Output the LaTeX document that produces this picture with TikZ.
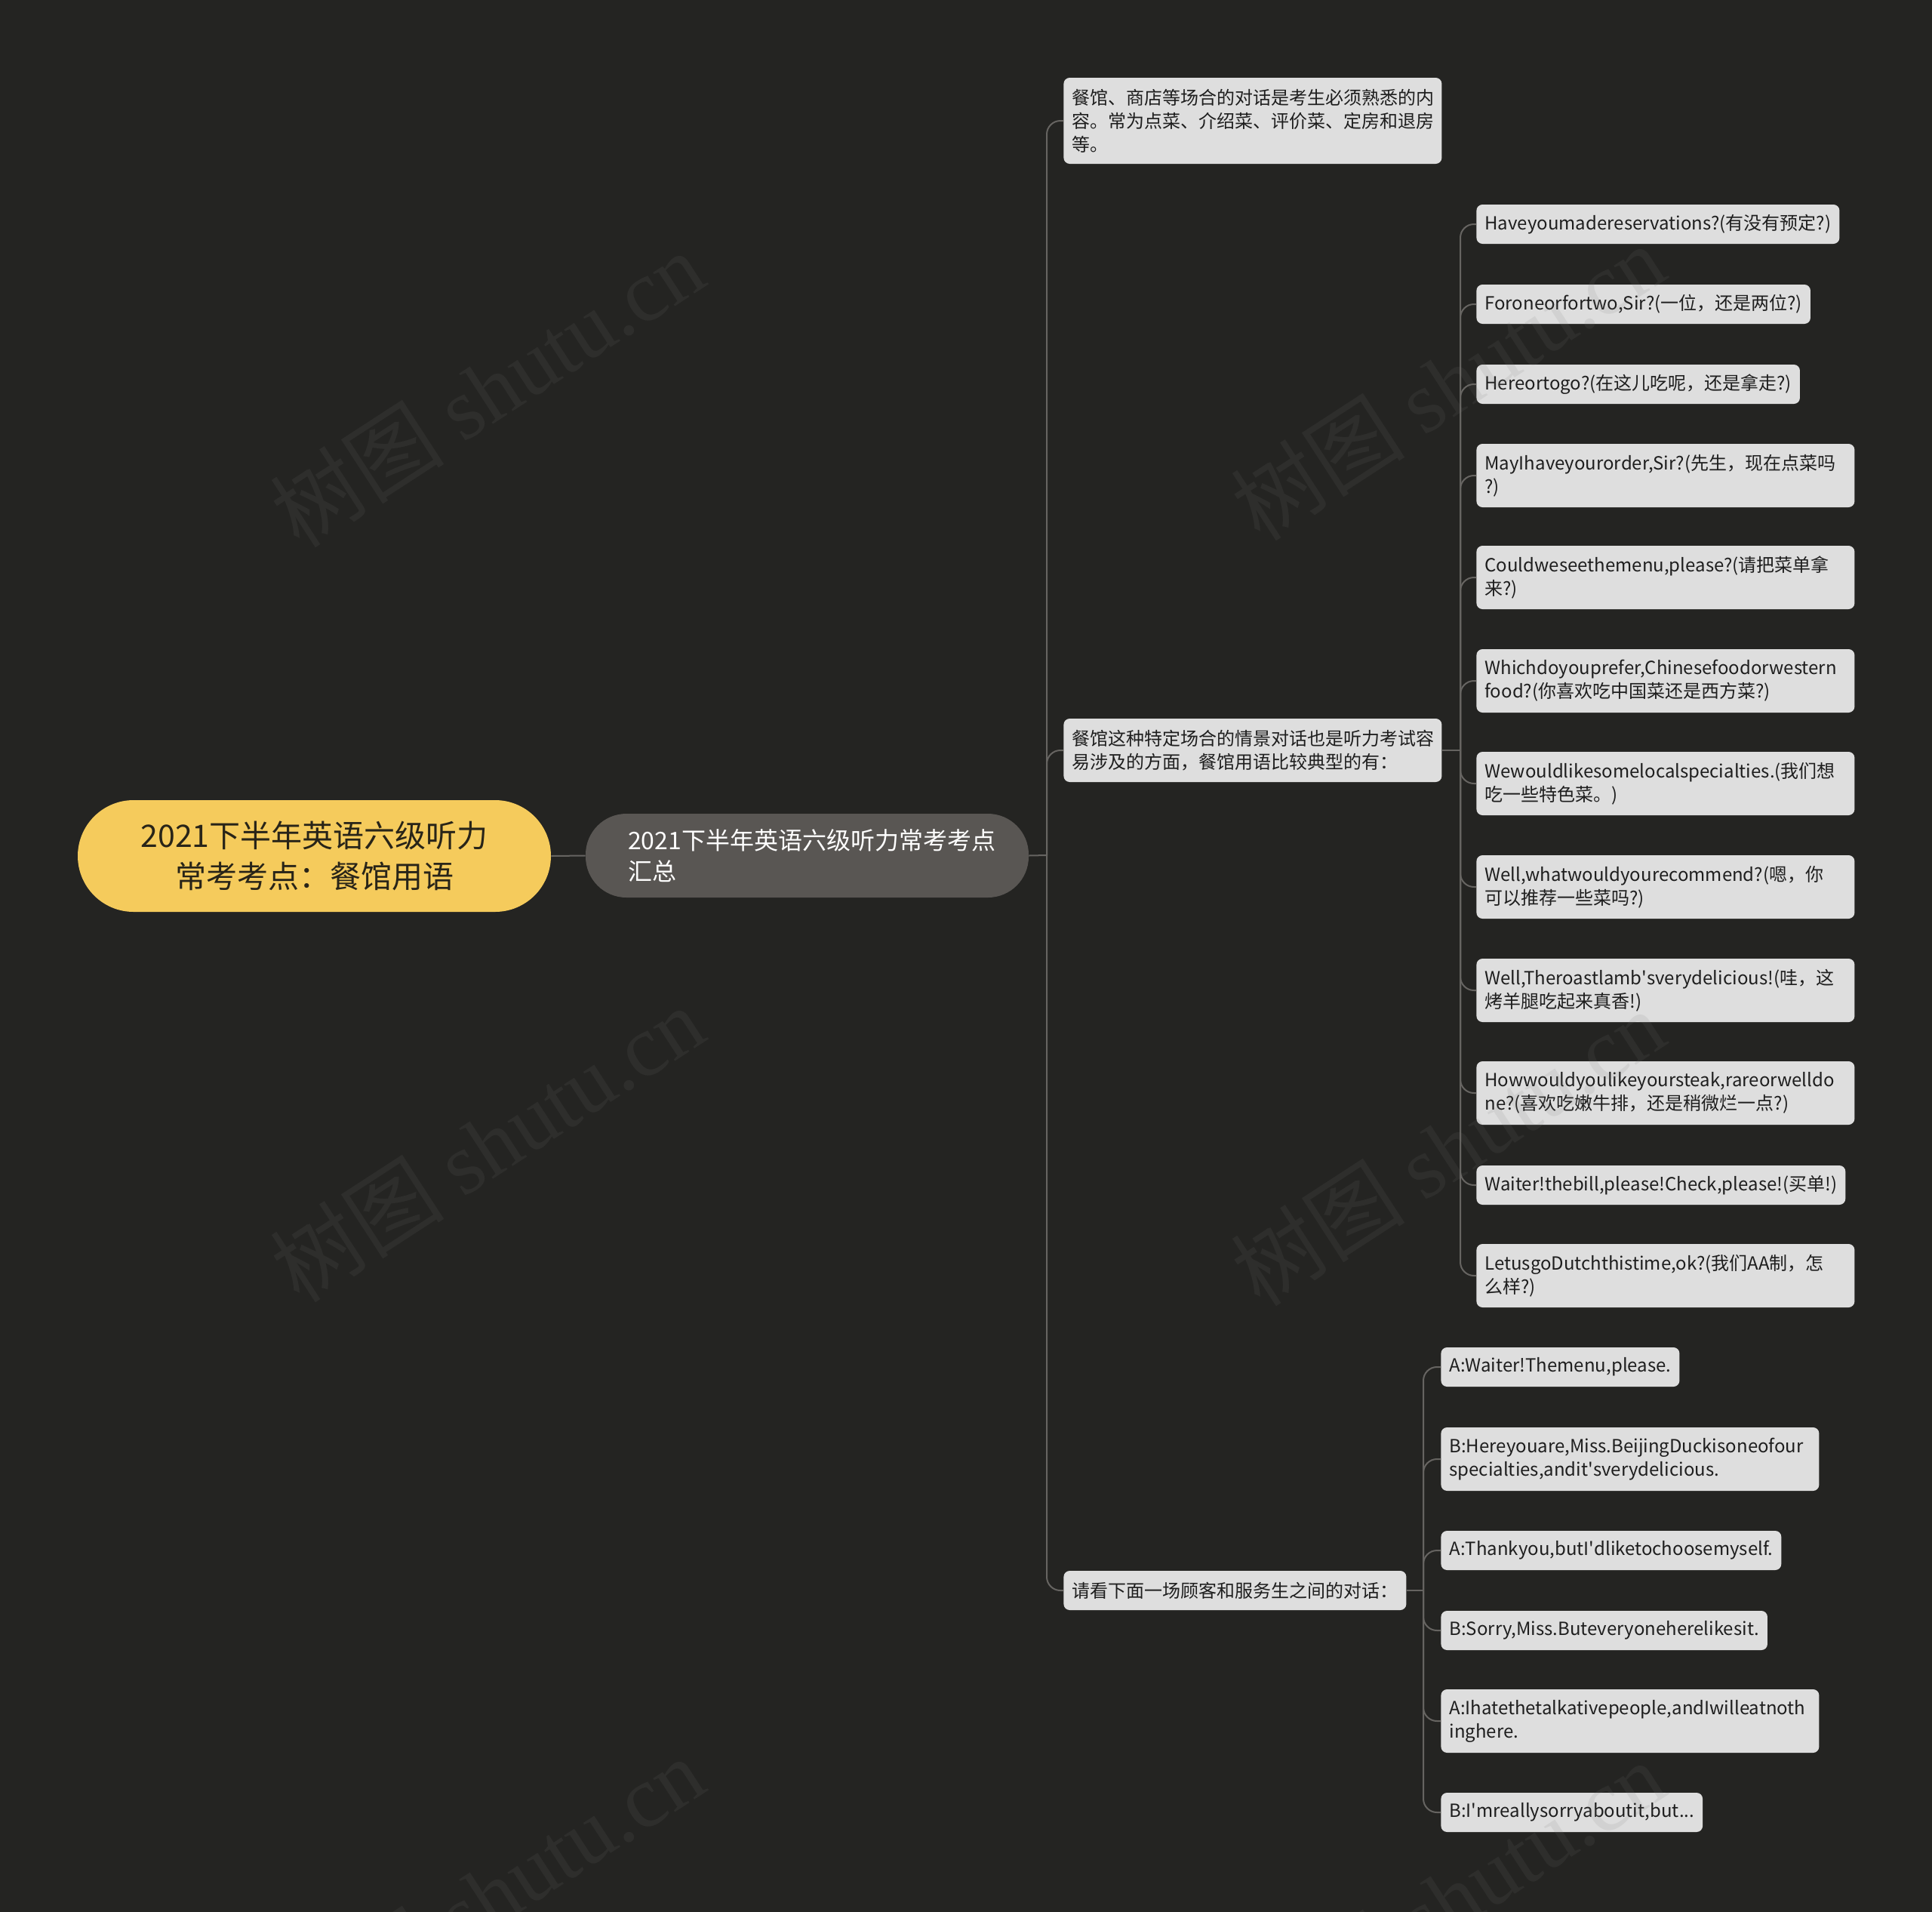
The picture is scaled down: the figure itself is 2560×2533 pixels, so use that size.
\documentclass[tikz,border=0pt]{standalone}
\usepackage{fontspec}
\setmainfont{Noto Sans CJK SC}
\newfontfamily\wmfont{Liberation Serif}
\usetikzlibrary{positioning,calc}
\definecolor{BgDark}{RGB}{36,36,34}
\definecolor{WmGray}{RGB}{120,120,118}
\definecolor{RootYellow}{RGB}{245,203,92}
\definecolor{RootInk}{RGB}{40,36,24}
\definecolor{SubGray}{RGB}{89,86,83}
\definecolor{LeafGray}{RGB}{222,222,222}
\definecolor{LeafInk}{RGB}{30,30,30}
\definecolor{LineGray}{RGB}{102,100,97}
\tikzset{
  root/.style={fill=RootYellow,text=RootInk,rounded corners=37pt,minimum width=313.5pt,
    minimum height=74pt,align=center,font=\fontsize{20.5}{27}\selectfont},
  sub/.style={fill=SubGray,text=white,rounded corners=27pt,minimum height=55.5pt,
    text width=237.5pt,inner xsep=28pt,align=left,font=\fontsize{16}{20.5}\selectfont},
  leaf/.style={fill=LeafGray,text=LeafInk,rounded corners=4pt,anchor=west,inner xsep=5.5pt,
    minimum height=26pt,font=\fontsize{12}{15.5}\selectfont},
  leafw/.style={leaf,text width=239.5pt,align=left,minimum height=42pt},
  conn/.style={draw=LineGray,line width=1pt,rounded corners=9pt},
  wm/.style={text=WmGray,text opacity=0.12,rotate=33,font=\fontsize{58}{58}\selectfont},
}
\newcommand{\apos}{\textquotesingle}

\begin{document}
\begin{tikzpicture}[x=0.5pt,y=-0.5pt]
\fill[BgDark] (0,0) rectangle (2560,2533);
\useasboundingbox (0,0) rectangle (2560,2533);
% centre
\node[root] (root) at (416.5,1134) {2021下半年英语六级听力\\常考考点：餐馆用语};
\node[sub] (sub) at (1069.5,1133.5) {2021下半年英语六级听力常考考点\\汇总};
\coordinate (f1) at (1387,1133);
% first level
\node[leafw,minimum height=57pt] (t1) at (1409,160) {餐馆、商店等场合的对话是考生必须熟悉的内\\容。常为点菜、介绍菜、评价菜、定房和退房\\等。};
\node[leafw] (t2) at (1409,994) {餐馆这种特定场合的情景对话也是听力考试容\\易涉及的方面，餐馆用语比较典型的有：};
\node[leaf] (t3) at (1409,2107) {请看下面一场顾客和服务生之间的对话：};
\coordinate (f2) at (1935,994);
\coordinate (f3) at (1886,2107);
% phrases
\node[leaf] (c1) at (1956,297) {Haveyoumadereservations?(有没有预定?)};
\node[leaf] (c2) at (1956,403) {Foroneorfortwo,Sir?(一位，还是两位?)};
\node[leaf] (c3) at (1956,509) {Hereortogo?(在这儿吃呢，还是拿走?)};
\node[leafw] (c4) at (1956,630) {MayIhaveyourorder,Sir?(先生，现在点菜吗\\?)};
\node[leafw] (c5) at (1956,765) {Couldweseethemenu,please?(请把菜单拿\\来?)};
\node[leafw] (c6) at (1956,902) {Whichdoyouprefer,Chinesefoodorwestern\\food?(你喜欢吃中国菜还是西方菜?)};
\node[leafw] (c7) at (1956,1038) {Wewouldlikesomelocalspecialties.(我们想\\吃一些特色菜。)};
\node[leafw] (c8) at (1956,1175) {Well,whatwouldyourecommend?(嗯，你\\可以推荐一些菜吗?)};
\node[leafw] (c9) at (1956,1312) {Well,Theroastlamb\apos sverydelicious!(哇，这\\烤羊腿吃起来真香!)};
\node[leafw] (c10) at (1956,1448) {Howwouldyoulikeyoursteak,rareorwelldo\\ne?(喜欢吃嫩牛排，还是稍微烂一点?)};
\node[leaf] (c11) at (1956,1570) {Waiter!thebill,please!Check,please!(买单!)};
\node[leafw] (c12) at (1956,1690) {LetusgoDutchthistime,ok?(我们AA制，怎\\么样?)};
% dialogue
\node[leaf] (d1) at (1909,1811) {A:Waiter!Themenu,please.};
\node[leafw] (d2) at (1909,1933) {B:Hereyouare,Miss.BeijingDuckisoneofour\\specialties,andit\apos sverydelicious.};
\node[leaf] (d3) at (1909,2054) {A:Thankyou,butI\apos dliketochoosemyself.};
\node[leaf] (d4) at (1909,2160) {B:Sorry,Miss.Buteveryoneherelikesit.};
\node[leafw] (d5) at (1909,2280) {A:Ihatethetalkativepeople,andIwilleatnoth\\inghere.};
\node[leaf] (d6) at (1909,2401) {B:I\apos mreallysorryaboutit,but...};
% connectors
\draw[conn] (root.east) -- (sub.west);
\draw[conn] (sub.east) -- (f1);
\foreach \t in {t1,t2,t3} \draw[conn] (f1) |- (\t.west);
\draw[conn] (t2.east) -- (f2);
\foreach \i in {1,...,12} \draw[conn] (f2) |- (c\i.west);
\draw[conn] (t3.east) -- (f3);
\foreach \i in {1,...,6} \draw[conn] (f3) |- (d\i.west);
% watermark
\foreach \wx/\wy in {645/515,1918/506,645/1515,1918/1520,645/2510,1918/2515}
  \node[wm] at (\wx,\wy) {树图 {\wmfont shutu.cn}};
\end{tikzpicture}
\end{document}
